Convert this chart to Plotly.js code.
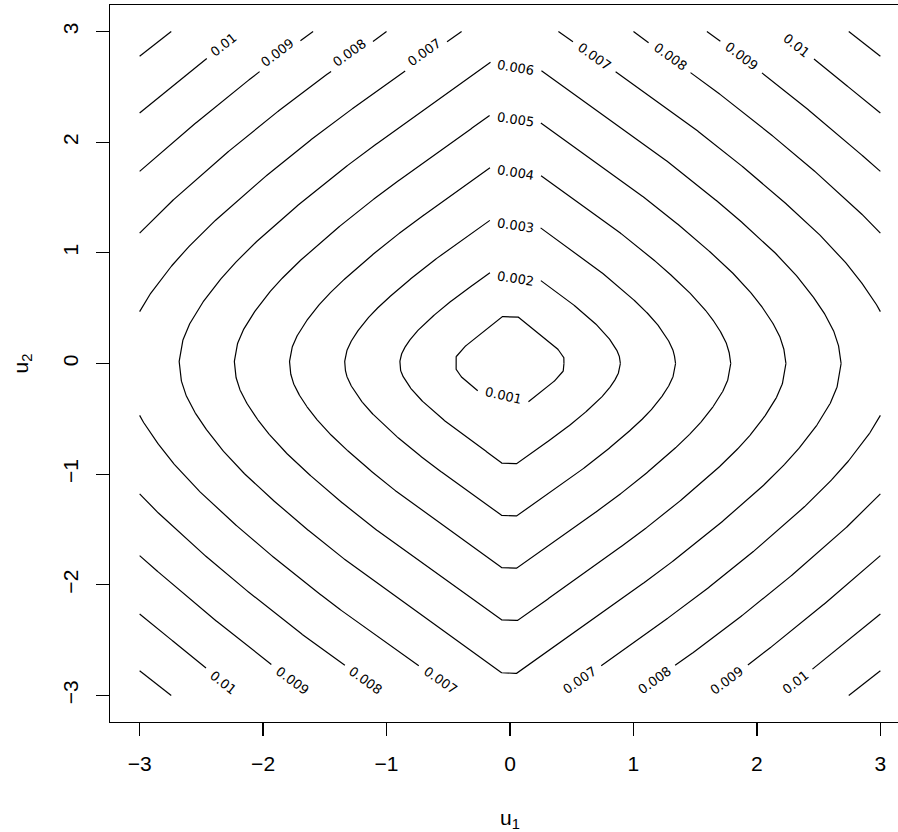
<!DOCTYPE html>
<html>
<head>
<meta charset="utf-8">
<script src="https://cdn.plot.ly/plotly-3.0.1.min.js"></script>
<style>html,body{margin:0;padding:0;overflow:hidden;background:#fff}</style>
</head>
<body>
<div id="chart"></div>
<script>
// ---- data ----
const levels = [0.001, 0.002, 0.003, 0.004, 0.005, 0.006, 0.007, 0.008, 0.009, 0.010, 0.011];

// contour points in the quadrant u1>=0, u2>=0 (the surface is symmetric in u1 and u2)
const quadU1 = [
  [0, 0.061, 0.2, 0.378, 0.436, 0.437],
  [0, 0.061, 0.1, 0.2, 0.3, 0.4, 0.5, 0.6, 0.7, 0.76, 0.8, 0.84, 0.87, 0.886, 0.894],
  [0, 0.061, 0.15, 0.3, 0.45, 0.6, 0.75, 0.9, 1.05, 1.14, 1.2, 1.26, 1.305, 1.329, 1.341],
  [0, 0.061, 0.2, 0.4, 0.6, 0.8, 1.0, 1.2, 1.4, 1.52, 1.6, 1.68, 1.74, 1.772, 1.788],
  [0, 0.061, 0.25, 0.5, 0.75, 1.0, 1.25, 1.5, 1.75, 1.9, 2.0, 2.1, 2.175, 2.215, 2.235],
  [0, 0.061, 0.3, 0.6, 0.9, 1.2, 1.5, 1.8, 2.1, 2.28, 2.4, 2.52, 2.61, 2.658, 2.682],
  [0.392, 0.7, 1.05, 1.4, 1.75, 2.1, 2.45, 2.66, 2.8, 2.94, 3.0],
  [1.0, 1.2, 1.6, 2.0, 2.4, 2.8, 3.0],
  [1.595, 1.8, 2.25, 2.7, 3.0],
  [2.18, 2.5, 3.0],
  [2.744, 3.0]
];
const quadU2 = [
  [0.424, 0.424, 0.302, 0.142, 0.061, 0],
  [0.905, 0.905, 0.870, 0.789, 0.709, 0.630, 0.544, 0.451, 0.351, 0.283, 0.229, 0.168, 0.109, 0.062, 0],
  [1.378, 1.378, 1.304, 1.184, 1.064, 0.945, 0.815, 0.677, 0.527, 0.424, 0.344, 0.252, 0.164, 0.093, 0],
  [1.850, 1.850, 1.739, 1.578, 1.418, 1.260, 1.087, 0.903, 0.703, 0.565, 0.459, 0.336, 0.219, 0.124, 0],
  [2.322, 2.322, 2.174, 1.973, 1.773, 1.575, 1.359, 1.129, 0.879, 0.707, 0.574, 0.420, 0.274, 0.155, 0],
  [2.800, 2.800, 2.609, 2.367, 2.127, 1.890, 1.631, 1.354, 1.054, 0.848, 0.688, 0.504, 0.328, 0.186, 0],
  [3.0, 2.762, 2.482, 2.205, 1.903, 1.580, 1.230, 0.989, 0.803, 0.588, 0.469],
  [3.0, 2.836, 2.520, 2.174, 1.806, 1.406, 1.178],
  [3.0, 2.835, 2.446, 2.031, 1.736],
  [3.0, 2.718, 2.264],
  [3.0, 2.777]
];

// contour labels
const labelText  = ["0.01", "0.009", "0.008", "0.007", "0.006", "0.005", "0.004", "0.003", "0.002", "0.001",
                    "0.007", "0.008", "0.009", "0.01",
                    "0.01", "0.009", "0.008", "0.007", "0.007", "0.008", "0.009", "0.01"];
const labelLevel = [0.010, 0.009, 0.008, 0.007, 0.006, 0.005, 0.004, 0.003, 0.002, 0.001,
                    0.007, 0.008, 0.009, 0.010,
                    0.010, 0.009, 0.008, 0.007, 0.007, 0.008, 0.009, 0.010];
const labelU1    = [-2.318, -1.881, -1.297, -0.696, 0.045, 0.041, 0.041, 0.041, 0.041, -0.054,
                    0.683, 1.297, 1.879, 2.320,
                    -2.324, -1.764, -1.169, -0.561, 0.561, 1.169, 1.757, 2.311];
const labelU2    = [2.882, 2.807, 2.807, 2.807, 2.677, 2.201, 1.725, 1.249, 0.771, -0.285,
                    2.776, 2.776, 2.776, 2.875,
                    -2.880, -2.864, -2.864, -2.864, -2.864, -2.864, -2.864, -2.880];

const tickVals = [-3, -2, -1, 0, 1, 2, 3];
const tickText = ["\u22123", "\u22122", "\u22121", "0", "1", "2", "3"];

// ---- layout geometry ----
const W = 910, H = 832, M = {l: 110, r: 0, t: 5, b: 110};
const XR = [-3.24, 3.24], YR = [-3.24, 3.24];
const PW = W - M.l - M.r, PH = H - M.t - M.b;
const toPx = u => M.l + (u - XR[0]) / (XR[1] - XR[0]) * PW;
const toPy = v => M.t + (YR[1] - v) / (YR[1] - YR[0]) * PH;
const gapRadius = txt => (txt.length >= 5 ? 25.5 : 21.5);

const circles = labelText.map((t, i) => ({lev: labelLevel[i], r: gapRadius(t),
  cx: toPx(labelU1[i]), cy: toPy(labelU2[i]), pts: []}));

function pieces(qx, qy) {
  const q1 = qx.map((x, i) => [x, qy[i]]);
  const q4 = q1.slice().reverse().map(p => [p[0], -p[1]]);
  const q3 = q1.map(p => [-p[0], -p[1]]);
  const q2 = q1.slice().reverse().map(p => [-p[0], p[1]]);
  if (qx[0] === 0) return [q4.concat(q3.slice(1), q2.slice(1), q1.slice(1))];
  return [q1, q4, q3, q2];
}

function addPiece(piece, myCircles, xs, ys) {
  let prevOut = false;
  for (let i = 0; i < piece.length - 1; i++) {
    const a = piece[i], b = piece[i + 1];
    const ax = toPx(a[0]), ay = toPy(a[1]), bx = toPx(b[0]), by = toPy(b[1]);
    const n = Math.max(1, Math.ceil(Math.hypot(bx - ax, by - ay)));
    for (let j = (i === 0 ? 0 : 1); j <= n; j++) {
      const t = j / n;
      const X = ax + (bx - ax) * t, Y = ay + (by - ay) * t;
      let hit = null;
      for (const c of myCircles) { if (Math.hypot(X - c.cx, Y - c.cy) < c.r) { hit = c; break; } }
      if (hit) {
        hit.pts.push([X, Y]);
        if (prevOut) { xs.push(null); ys.push(null); }
        prevOut = false;
      } else {
        xs.push(a[0] + (b[0] - a[0]) * t);
        ys.push(a[1] + (b[1] - a[1]) * t);
        prevOut = true;
      }
    }
  }
  xs.push(null); ys.push(null);
}

const traces = levels.map((lev, k) => {
  const xs = [], ys = [];
  const mine = circles.filter(c => Math.abs(c.lev - lev) < 1e-9);
  pieces(quadU1[k], quadU2[k]).forEach(p => addPiece(p, mine, xs, ys));
  return {x: xs, y: ys, type: 'scatter', mode: 'lines', connectgaps: false,
          line: {color: '#000', width: 1.2}, hoverinfo: 'skip', showlegend: false};
});

const annotations = circles.map((c, i) => {
  let ang = 0;
  if (c.pts.length > 1) {
    const f = c.pts[0], l = c.pts[c.pts.length - 1];
    ang = Math.atan2(l[1] - f[1], l[0] - f[0]) * 180 / Math.PI;
    if (ang > 90) ang -= 180;
    if (ang < -90) ang += 180;
  }
  return {x: labelU1[i], y: labelU2[i], xref: 'x', yref: 'y', text: labelText[i], showarrow: false,
          textangle: ang, xanchor: 'center', yanchor: 'middle',
          font: {family: 'DejaVu Sans', size: 13, color: '#000'}};
});

annotations.push({xref: 'paper', yref: 'paper', x: 0.5, y: 0, yshift: -97, text: 'u<sub>1</sub>',
  showarrow: false, xanchor: 'center', yanchor: 'middle', font: {family: 'Liberation Sans', size: 21, color: '#000'}});
annotations.push({xref: 'paper', yref: 'paper', x: 0, xshift: -89, y: 0.5, text: 'u<sub>2</sub>', textangle: -90,
  showarrow: false, xanchor: 'center', yanchor: 'middle', font: {family: 'Liberation Sans', size: 21, color: '#000'}});

const axisCommon = {
  tickmode: 'array', tickvals: tickVals, ticktext: tickText,
  ticks: 'outside', ticklen: 13, tickwidth: 1.2, tickcolor: '#000',
  showline: true, linecolor: '#000', linewidth: 1.2, mirror: true,
  showgrid: false, zeroline: false, automargin: false,
  tickfont: {family: 'Liberation Sans', size: 21, color: '#000'}
};

const layout = {
  width: W, height: H, margin: M,
  paper_bgcolor: '#fff', plot_bgcolor: '#fff',
  xaxis: Object.assign({}, axisCommon, {range: XR, ticklabelstandoff: 10}),
  yaxis: Object.assign({}, axisCommon, {range: YR, tickangle: -90, ticklabelstandoff: 9}),
  annotations: annotations,
  showlegend: false
};

Plotly.newPlot('chart', traces, layout, {staticPlot: true, displayModeBar: false});
</script>
</body>
</html>
